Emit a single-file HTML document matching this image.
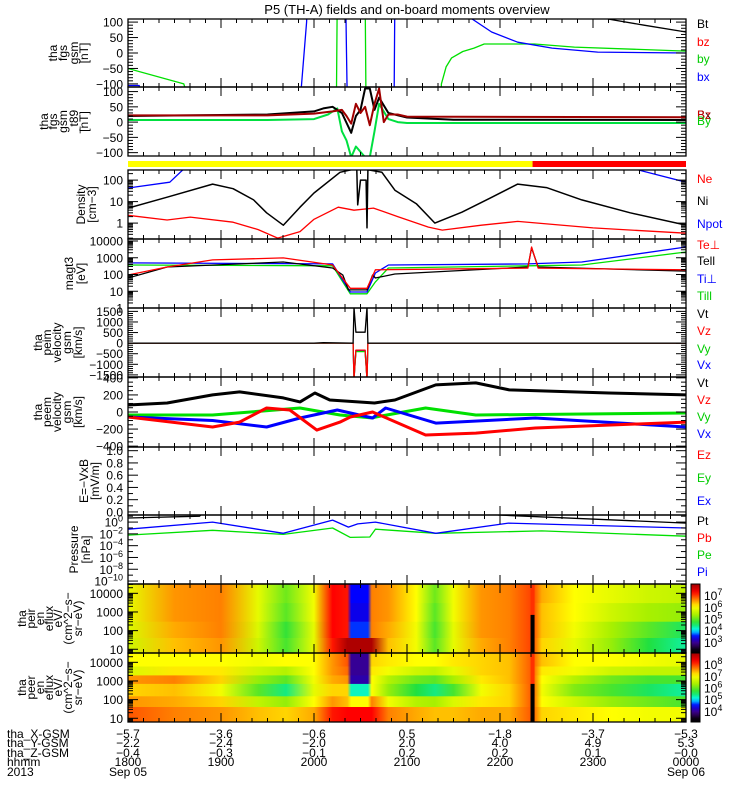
<!DOCTYPE html>
<html><head><meta charset="utf-8"><style>
html,body{margin:0;padding:0;background:#fff}
svg{display:block;font-family:"Liberation Sans",sans-serif}
</style></head><body>
<svg id="c" width="750" height="800" viewBox="0 0 750 800" xmlns="http://www.w3.org/2000/svg">
<text x="407" y="14" text-anchor="middle" font-size="13">P5 (TH-A) fields and on-board moments overview</text>
</svg>
<script>
// ---------- data (time in hours after 18:00 UT) ----------
var fgsBxT=[0,0.12,0.13,1.84,1.92,1.93,2.34,2.35,2.36,2.86,2.87,3.70,3.91,4.19,4.56,5.05,6.0];
var fgsBxV=[-105,-105,-200,-200,100,200,200,0,-200,-200,200,110,68,35,16,3,0];
var fgsByT=[0,0.6,0.7,2.24,2.25,2.55,2.56,3.36,3.37,3.42,3.48,3.6,3.72,3.83,4.37,4.8,6.0];
var fgsByV=[-50,-100,-200,-200,200,200,-200,-200,-100,-45,-16,5,16,29,29,19,6];
var fgsBtT=[5.0,5.16,5.55,6.0];
var fgsBtV=[200,110,90,68];
var t89BtT=[0,1.5,2.0,2.1,2.2,2.3,2.4,2.45,2.5,2.55,2.6,2.65,2.7,2.8,3.0,3.5,6.0];
var t89BtV=[20,25,35,45,50,30,-35,20,40,110,110,40,80,30,15,8,7];
var t89BzT=[0,1.5,2.0,2.2,2.3,2.35,2.4,2.45,2.5,2.55,2.6,2.65,2.7,2.75,2.8,2.9,3.0,6.0];
var t89BzV=[22,22,28,35,40,20,-5,60,30,50,-10,60,110,0,25,25,18,16];
var t89ByT=[0,1.5,2.0,2.15,2.25,2.3,2.35,2.4,2.45,2.55,2.6,2.65,2.7,2.8,2.9,3.0,6.0];
var t89ByV=[7,7,10,25,45,-30,-60,-115,-80,-115,-115,-30,60,10,0,-3,-3];
var niT=[0,0.42,0.91,1.13,1.35,1.49,1.67,1.85,2.0,2.28,2.4,2.46,2.47,2.5,2.56,2.57,2.58,2.73,2.87,3.1,3.3,3.59,3.9,4.19,4.5,4.88,5.4,6.0];
var niV=[5,16,65,40,12,3,0.8,5.5,25,230,300,300,7,100,100,0.6,300,230,34,8,1.0,3.2,15,65,45,12,3,0.8];
var neT=[0,0.42,0.67,1.13,1.4,1.61,1.85,2.0,2.26,2.43,2.64,2.9,3.23,3.38,3.8,4.19,5.0,6.0];
var neV=[2.3,1.4,1.9,1.1,0.5,0.2,0.4,1.5,5.5,4,5,2,0.65,0.47,0.8,1.2,0.6,0.34];
var npotT=[0,0.45,0.59,null,5.48,6.0];
var npotV=[43,80,300,null,300,80];
var tellT=[0,0.42,1.67,2.2,2.31,2.37,2.57,2.63,2.66,2.87,4.30,4.34,4.41,6.0];
var tellV=[62,280,560,245,93,12,12,93,62,107,280,3800,280,160];
var teperpT=[0,0.42,0.91,1.67,2.2,2.39,2.57,2.66,4.30,4.34,4.41,6.0];
var teperpV=[93,280,740,980,370,15,15,190,240,4400,240,190];
var tiperpT=[0,2.2,2.39,2.57,2.66,2.8,4.3,4.88,6.0];
var tiperpV=[490,430,9,9,123,370,430,560,4400];
var tiparT=[0,2.2,2.39,2.57,2.66,2.8,4.3,4.88,6.0];
var tiparV=[370,330,7,7,36,245,330,370,2200];
var vimT=[0,2.0,2.1,2.42,2.43,2.45,2.55,2.57,2.58,6];
var vimVt=[0,0,20,0,1700,515,515,1700,0,0];
var vimVz=[0,0,0,0,-1700,-330,-330,-1700,0,0];
var vimVy=[0,0,0,0,-1700,-400,-400,-1700,0,0];
var vimVx=[0,0,0,0,-1700,-350,-350,-1700,0,0];
var vemVtT=[0,0.42,0.91,1.2,1.67,1.85,2.01,2.17,2.65,2.87,3.31,3.74,4.1,5.17,6.0];
var vemVtV=[82,106,200,235,165,118,223,141,106,141,318,341,259,223,200];
var vemVzT=[0,0.91,1.2,1.49,1.74,2.03,2.28,2.39,2.63,3.2,3.74,4.38,6.0];
var vemVzV=[-59,-176,-118,47,24,-212,-118,-59,0,-270,-247,-188,-118];
var vemVxT=[0,0.91,1.49,1.85,2.25,2.63,2.77,3.31,4.38,6.0];
var vemVxV=[-59,-100,-176,-70,24,-70,47,-130,-70,-176];
var vemVyT=[0,0.91,1.85,2.28,2.63,2.66,3.2,3.74,6.0];
var vemVyV=[-35,-35,47,-35,-70,-60,47,-35,-12];
var piT=[0,0.91,1.67,2.2,2.37,2.47,2.66,3.31,4.09,6.0];
var piV=[0.063,1,0.0126,2.2,0.14,0.5,1,0.0126,0.68,0.1];
var peT=[0,0.91,1.67,2.2,2.39,2.6,2.66,3.31,4.45,6.0];
var peV=[0.0063,0.04,0.008,0.1,0.0025,0.003,0.063,0.0126,0.032,0.004];
var ptT=[0,0.77,0.8,null,3.98,6.0];
var ptV=[5,10,30,null,16,0.68];
// spectrogram time nodes and log10 eflux per energy row (ion colour scale)
var specT=[0,0.5,1.0,1.4,1.7,2.0,2.2,2.36,2.4,2.58,2.62,2.8,3.1,3.3,3.5,3.8,4.1,4.35,4.45,4.8,5.2,5.6,6.0];
var ionEdges=[31600,3000,300,40,6];
var ionR0=[5.8,6.5,6.6,5.8,5.0,5.9,7.2,7.1,3.5,3.5,6.6,6.5,6.0,5.0,5.9,6.5,6.6,6.9,6.4,6.0,5.8,5.6,5.5];
var ionR1=[5.8,6.5,6.6,5.8,4.9,5.9,7.2,7.1,3.4,3.4,6.6,6.5,6.0,4.9,5.9,6.5,6.6,6.9,6.3,6.0,5.6,5.3,5.2];
var ionR2=[5.7,6.4,6.6,5.7,4.7,5.8,7.2,7.1,3.6,3.6,6.6,6.4,5.9,4.8,5.8,6.5,6.6,6.9,6.3,5.9,5.3,4.9,4.5];
var ionR3=[5.6,6.3,6.5,5.6,4.8,5.8,7.1,7.8,7.8,7.8,7.8,6.3,5.9,4.9,5.8,6.4,6.6,6.9,6.2,5.8,5.2,4.6,4.3];
var elecEdges=[31600,6000,2000,700,150,40,6];
var elR0=[6.0,6.0,6.0,5.9,6.0,6.0,6.5,6.8,3.0,3.0,6.2,6.1,6.0,6.0,6.1,6.2,6.3,6.8,6.3,6.0,6.0,5.9,5.8];
var elR1=[5.7,6.1,6.1,5.6,5.4,6.0,6.5,6.7,3.0,3.0,6.1,5.9,5.6,5.5,5.8,6.2,6.3,6.8,6.1,5.9,5.6,5.5,5.5];
var elR2=[6.5,6.6,6.2,5.2,4.9,5.9,6.4,6.5,3.1,3.1,6.0,5.4,5.0,4.9,5.3,6.1,6.3,6.8,6.0,5.4,5.0,4.8,4.8];
var elR3=[6.2,6.3,5.9,4.9,4.4,5.8,6.2,6.2,4.2,4.2,6.0,5.2,4.6,4.4,4.8,5.9,6.2,6.8,5.9,5.1,4.8,4.5,4.3];
var elR4=[6.5,6.4,6.2,5.5,5.2,6.0,6.5,6.3,6.0,6.0,6.6,5.9,5.4,5.3,5.7,6.1,6.2,6.8,6.0,5.6,5.2,5.0,4.8];
var elR5=[6.8,6.6,6.5,6.3,6.2,6.4,7.1,7.2,7.2,7.2,7.2,6.6,6.4,6.3,6.3,6.4,6.4,6.8,6.2,6.1,6.0,5.9,5.9];
var gapT=4.35; // data gap time (black bar)
var modeSwitchT=4.35;
var xGsm=["−5.7","−3.6","−0.6","0.5","−1.8","−3.7","−5.3"];
var yGsm=["−2.2","−2.4","−2.0","2.0","4.0","4.9","5.3"];
var zGsm=["−0.4","−0.3","−0.1","0.2","0.2","0.1","−0.0"];
var hhmm=["1800","1900","2000","2100","2200","2300","0000"];

// ---------- drawing ----------
var NS="http://www.w3.org/2000/svg",svg=document.getElementById('c');
var X0=128,X1=686;
function xs(t){return X0+(X1-X0)*t/6;}
function mk(tag,at,parent){var e=document.createElementNS(NS,tag);for(var k in at)e.setAttribute(k,at[k]);(parent||svg).appendChild(e);return e;}
function yAxis(p){return function(v){var u=p.log?Math.log10(v):v;return p.bot-(u-p.min)/(p.max-p.min)*(p.bot-p.top);};}
var P={
 fgs:{top:19,bot:87,min:-110,max:110},
 t89:{top:87,bot:156,min:-111,max:115},
 den:{top:170,bot:239,min:-0.74,max:2.47,log:1},
 tmp:{top:239,bot:308,min:0,max:4.12,log:1},
 vim:{top:308,bot:377,min:-1600,max:1660},
 vem:{top:377,bot:447,min:-410,max:410},
 efl:{top:447,bot:515,min:-0.05,max:1.06},
 prs:{top:515,bot:584,min:-10.5,max:1.2,log:1},
 sp1:{top:584,bot:653,min:0.8,max:4.5,log:1},
 sp2:{top:653,bot:722,min:0.8,max:4.5,log:1}
};
var ci=0;
function clipFor(p){var id='cl'+(ci++);var cp=mk('clipPath',{id:id});mk('rect',{x:X0,y:p.top,width:X1-X0,height:p.bot-p.top},cp);return id;}
function line(p,T,V,col,w,name){var ya=yAxis(p),d='',pen=false;for(var i=0;i<T.length;i++){if(T[i]===null){pen=false;continue;}d+=(pen?'L':'M')+xs(T[i]).toFixed(1)+' '+ya(V[i]).toFixed(1);pen=true;}
 var e=mk('path',{d:d,fill:'none',stroke:col,'stroke-width':w||1,'stroke-linejoin':'round','clip-path':'url(#'+p.clip+')'});
 
 }
// colormap
var cmV=[2.3,2.9,3.5,4.0,4.6,5.3,6.0,6.6,7.2,7.9],cmC=['#000000','#400080','#0000ff','#00ffff','#20e040','#a8f000','#ffff00','#ff8000','#ff0000','#a00000'];
function hx(c){return [parseInt(c.substr(1,2),16),parseInt(c.substr(3,2),16),parseInt(c.substr(5,2),16)];}
function cmap(v){if(v<=cmV[0])return cmC[0];for(var i=1;i<cmV.length;i++){if(v<=cmV[i]){var f=(v-cmV[i-1])/(cmV[i]-cmV[i-1]),a=hx(cmC[i-1]),b=hx(cmC[i]);return 'rgb('+[0,1,2].map(function(k){return Math.round(a[k]+(b[k]-a[k])*f)}).join(',')+')';}}return cmC[cmC.length-1];}
var defs=mk('defs',{});var gi=0;
function spec(p,edges,rows,name){var ya=yAxis(p);var g=mk('g',{'clip-path':'url(#'+p.clip+')'});
 
 rows.forEach(function(r,ri){var id='g'+(gi++);var lg=mk('linearGradient',{id:id,x1:0,x2:1,y1:0,y2:0},defs);
  r.forEach(function(v,k){mk('stop',{offset:(specT[k]/6).toFixed(4),'stop-color':cmap(v)},lg);});
  var y1=ya(edges[ri]),y2=ya(edges[ri+1]);
  var e=mk('rect',{x:X0,y:y1.toFixed(1),width:X1-X0,height:(y2-y1+0.6).toFixed(1),fill:'url(#'+id+')'},g);
  });
 var gx=xs(gapT);
 mk('rect',{x:gx-2,y:p.top,width:4,height:p.bot-p.top,fill:'#ff3000'},g);
 var gb=mk('rect',{x:gx-2,y:ya(700).toFixed(1),width:4,height:(p.bot-ya(700)).toFixed(1),fill:'#000'},g);
 }
for(var k in P){P[k].clip=clipFor(P[k]);}
// spectrograms
spec(P.sp1,ionEdges,[ionR0,ionR1,ionR2,ionR3],'ion-spectrogram');
spec(P.sp2,elecEdges,[elR0,elR1,elR2,elR3,elR4,elR5],'electron-spectrogram');
// mode bar
var mb1=mk('rect',{x:X0,y:161,width:xs(modeSwitchT)-X0,height:6,fill:'#ffff00'});

var mb2=mk('rect',{x:xs(modeSwitchT),y:161,width:X1-xs(modeSwitchT),height:6,fill:'#ff0000'});

// lines
line(P.fgs,fgsByT,fgsByV,'#00e000',1.3,'fgs-by');
line(P.fgs,fgsBxT,fgsBxV,'#0000ff',1.3,'fgs-bx');
line(P.fgs,fgsBtT,fgsBtV,'#000',1.3,'fgs-bt');
line(P.t89,t89ByT,t89ByV,'#00e040',2,'t89-by');
line(P.t89,t89BtT,t89BtV,'#000',2,'t89-bt');
line(P.t89,t89BzT,t89BzV,'#a00000',2,'t89-bz');
line(P.den,npotT,npotV,'#0000ff',1.3,'npot');
line(P.den,neT,neV,'#ff0000',1.3,'ne');
line(P.den,niT,niV,'#000',1.5,'ni');
line(P.tmp,tiparT,tiparV,'#00e000',1.3,'ti-par');
line(P.tmp,tiperpT,tiperpV,'#0000ff',1.3,'ti-perp');
line(P.tmp,tellT,tellV,'#000',1.3,'te-par');
line(P.tmp,teperpT,teperpV,'#ff0000',1.3,'te-perp');
line(P.vim,vimT,vimVx,'#0000ff',1.3,'vim-vx');
line(P.vim,vimT,vimVy,'#00e000',1.3,'vim-vy');
line(P.vim,vimT,vimVz,'#ff0000',1.3,'vim-vz');
line(P.vim,vimT,vimVt,'#000',1.3,'vim-vt');
line(P.vem,vemVyT,vemVyV,'#00e000',3,'vem-vy');
line(P.vem,vemVxT,vemVxV,'#0000ff',3,'vem-vx');
line(P.vem,vemVzT,vemVzV,'#ff0000',3,'vem-vz');
line(P.vem,vemVtT,vemVtV,'#000',3,'vem-vt');
line(P.prs,peT,peV,'#00e000',1.3,'pe');
line(P.prs,piT,piV,'#0000ff',1.3,'pi');
line(P.prs,ptT,ptV,'#000',1.3,'pt');
// frames and ticks
function frameAndTicks(p,ticks,labels,name,minor){var ya=yAxis(p);
 var f=mk('rect',{x:X0,y:p.top,width:X1-X0,height:p.bot-p.top,fill:'none',stroke:'#000','stroke-width':1.3});
 
 for(var m=0;m<=36;m++){var x=xs(m/6),L=(m%6==0)?9:4;mk('line',{x1:x,x2:x,y1:p.top,y2:p.top+L,stroke:'#000'});mk('line',{x1:x,x2:x,y1:p.bot,y2:p.bot-L,stroke:'#000'});}
 (minor||[]).forEach(function(v){var y=ya(v);if(y<p.top||y>p.bot)return;mk('line',{x1:X0,x2:X0+5,y1:y,y2:y,stroke:'#000'});mk('line',{x1:X1,x2:X1-5,y1:y,y2:y,stroke:'#000'});});
 ticks.forEach(function(v,i){var y=ya(v);mk('line',{x1:X0,x2:X0+10,y1:y,y2:y,stroke:'#000'});mk('line',{x1:X1,x2:X1-10,y1:y,y2:y,stroke:'#000'});
  var t=mk('text',{x:123,y:y+4.5,'text-anchor':'end','font-size':12});
  var lb=labels[i];if(typeof lb==='string'){t.textContent=lb;}else{t.textContent='10';var s=mk('tspan',{dy:-5,'font-size':9},t);s.textContent=lb[0];}
  });}
function logMinor(a,b){var r=[];for(var d=a;d<b;d++)for(var j=2;j<10;j++)r.push(j*Math.pow(10,d));return r;}
frameAndTicks(P.fgs,[100,50,0,-50,-100],['100','50','0','−50','−100'],'fgs',[90,80,70,60,40,30,20,10,-10,-20,-30,-40,-60,-70,-80,-90]);
frameAndTicks(P.t89,[100,50,0,-50,-100],['100','50','0','−50','−100'],'t89',[90,80,70,60,40,30,20,10,-10,-20,-30,-40,-60,-70,-80,-90]);
frameAndTicks(P.den,[100,10,1],['100','10','1'],'density',logMinor(-1,3));
frameAndTicks(P.tmp,[10000,1000,100,10,1],['10000','1000','100','10','1'],'temperature',logMinor(0,5));
frameAndTicks(P.vim,[1500,1000,500,0,-500,-1000,-1500],['1500','1000','500','0','−500','−1000','−1500'],'peim-velocity',[1400,1300,1200,1100,900,800,700,600,400,300,200,100,-100,-200,-300,-400,-600,-700,-800,-900,-1100,-1200,-1300,-1400]);
frameAndTicks(P.vem,[400,200,0,-200,-400],['400','200','0','−200','−400'],'peem-velocity',[350,300,250,150,100,50,-50,-100,-150,-250,-300,-350]);
frameAndTicks(P.efl,[0,0.2,0.4,0.6,0.8,1.0],['0.0','0.2','0.4','0.6','0.8','1.0'],'efield',[0.1,0.3,0.5,0.7,0.9]);
frameAndTicks(P.prs,[1,1e-2,1e-4,1e-6,1e-8,1e-10],[['0'],['−2'],['−4'],['−6'],['−8'],['−10']],'pressure',[10,0.1,1e-3,1e-5,1e-7,1e-9]);
frameAndTicks(P.sp1,[10000,1000,100,10],['10000','1000','100','10'],'ion-spectrogram',logMinor(0,5));
frameAndTicks(P.sp2,[10000,1000,100,10],['10000','1000','100','10'],'electron-spectrogram',logMinor(0,5));
// y axis titles
function ytitle(p,lines,xsPos,name){var cy=(p.top+p.bot)/2;var g=mk('g',{});
 lines.forEach(function(s,i){var t=mk('text',{x:xsPos[i],y:cy,'text-anchor':'middle','font-size':12,transform:'rotate(-90 '+xsPos[i]+' '+cy+')'},g);t.textContent=s;});}
ytitle(P.fgs,['tha','fgs','gsm','[nT]'],[57,67,78,88],'fgs-y-title');
ytitle(P.t89,['tha','fgs','gsm','_t89','[nT]'],[48,57,67,78,88],'t89-y-title');
ytitle(P.den,['Density','[cm−3]'],[85,96],'density-y-title');
ytitle(P.tmp,['magt3','[eV]'],[73,85],'temperature-y-title');
ytitle(P.vim,['tha','peim','velocity','gsm','[km/s]'],[42,51,61,71,82],'peim-y-title');
ytitle(P.vem,['tha','peem','velocity','gsm','[km/s]'],[42,51,61,71,82],'peem-y-title');
ytitle(P.efl,['E=−VxB','[mV/m]'],[88,99],'efield-y-title');
ytitle(P.prs,['Pressure','[nPa]'],[78,90],'pressure-y-title');
ytitle(P.sp1,['tha','peir','en','eflux','eV/','(cm^2−s−','sr−eV)'],[26,35,44,53,62,72,82],'ion-y-title');
ytitle(P.sp2,['tha','peer','en','eflux','eV/','(cm^2−s−','sr−eV)'],[26,35,44,53,62,72,82],'electron-y-title');
// legends
function legend(items,name){items.forEach(function(it){var t=mk('text',{x:697,y:it[2],'font-size':12,fill:it[1]});t.textContent=it[0];
 });}
legend([['Bt','#000',28],['bz','#f00',46],['by','#0c0',63],['bx','#00f',81]],'fgs');
legend([['Bx','#000',119],['Bz','#c00',119],['By','#0c0',125]],'t89');
legend([['Ne','#f00',183],['Ni','#000',205],['Npot','#00f',228]],'density');
legend([['Te⊥','#f00',249],['Tell','#000',265],['Ti⊥','#00f',283],['Till','#0c0',300]],'temperature');
legend([['Vt','#000',318],['Vz','#f00',335],['Vy','#0c0',353],['Vx','#00f',369]],'peim');
legend([['Vt','#000',387],['Vz','#f00',404],['Vy','#0c0',421],['Vx','#00f',438]],'peem');
legend([['Ez','#f00',459],['Ey','#0c0',482],['Ex','#00f',505]],'efield');
legend([['Pt','#000',525],['Pb','#f00',542],['Pe','#0c0',559],['Pi','#00f',576]],'pressure');
// colorbars
function cbar(p,off,labels,name){var id='cb'+name;var lg=mk('linearGradient',{id:id,x1:0,x2:0,y1:1,y2:0},defs);
 for(var i=0;i<=20;i++){var v=2.1+i*(7.9-2.1)/20;mk('stop',{offset:i/20,'stop-color':cmap(v)},lg);}
 var r=mk('rect',{x:691,y:p.top,width:9,height:p.bot-p.top,fill:'url(#'+id+')',stroke:'#000'});
 
 labels.forEach(function(e){var y=p.bot-(e-off-2.06)/(7.94-2.06)*(p.bot-p.top);var t=mk('text',{x:704,y:y+5,'font-size':12});t.textContent='10';var s=mk('tspan',{dy:-5,'font-size':9},t);s.textContent=String(e);
  });}
cbar(P.sp1,0,[7,6,5,4,3],'ion-colorbar');
cbar(P.sp2,1,[8,7,6,5,4],'electron-colorbar');
// bottom annotations
var rows=[['tha_X-GSM',xGsm,738],['tha_Y-GSM',yGsm,747],['tha_Z-GSM',zGsm,757],['hhmm',hhmm,766]];
rows.forEach(function(r){var t=mk('text',{x:7,y:r[2],'font-size':12});t.textContent=r[0];
 r[1].forEach(function(s,i){var u=mk('text',{x:xs(i),y:r[2],'font-size':12,'text-anchor':'middle'});u.textContent=s;});});
var a=mk('text',{x:7,y:776,'font-size':12});a.textContent='2013';
var b=mk('text',{x:xs(0),y:776,'font-size':12,'text-anchor':'middle'});b.textContent='Sep 05';
var c=mk('text',{x:xs(6),y:776,'font-size':12,'text-anchor':'middle'});c.textContent='Sep 06';
</script>
</body></html>
